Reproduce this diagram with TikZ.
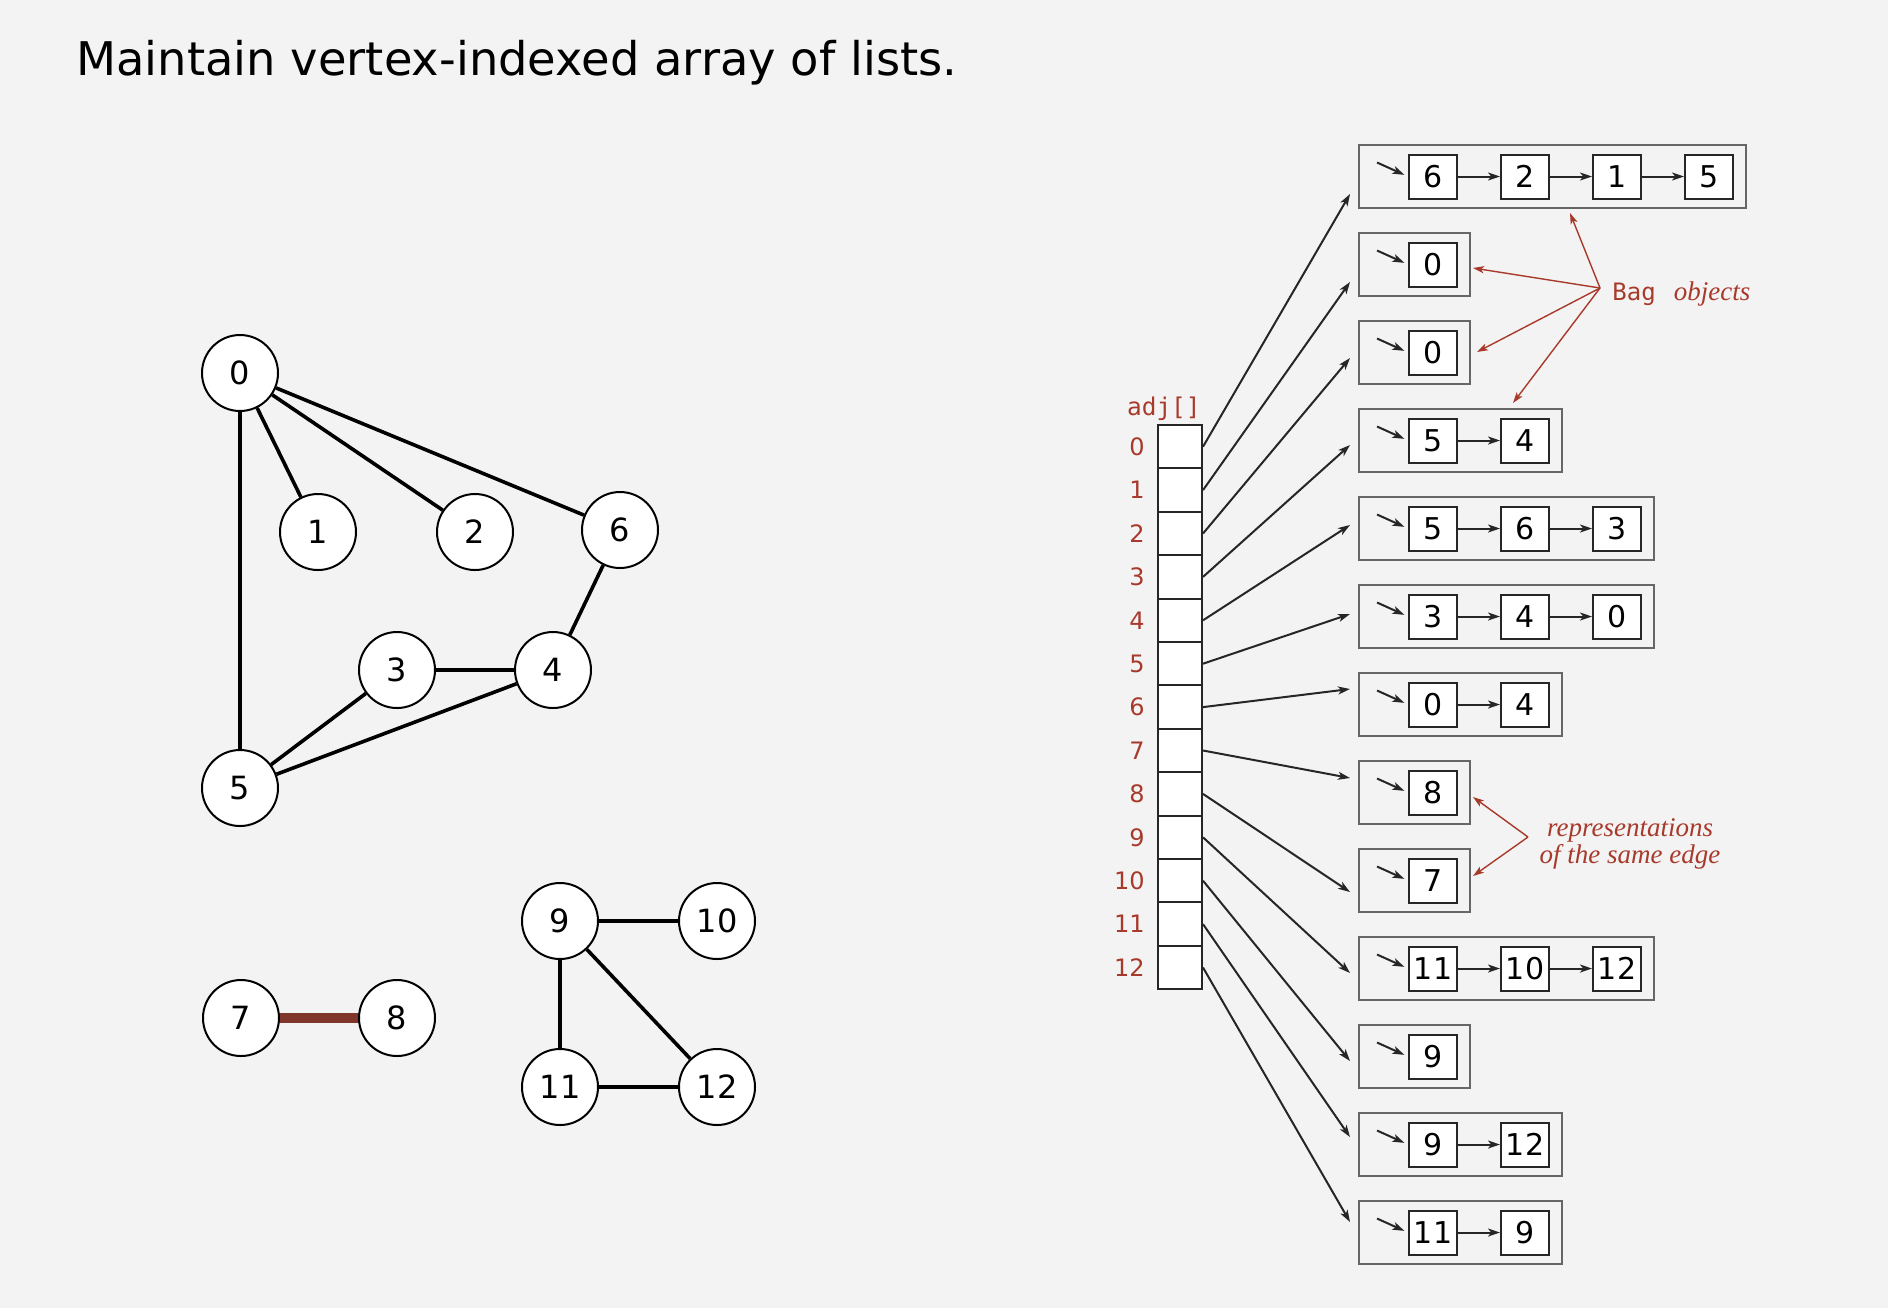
\documentclass[tikz,border=0pt]{standalone}
\usepackage{fontspec}
\usepackage{tikz}
\usetikzlibrary{calc}
\usetikzlibrary{backgrounds}
\usetikzlibrary{arrows.meta}
\usetikzlibrary{positioning}
\newfontfamily\vsans{DejaVu Sans}
\newfontfamily\vmono{DejaVu Sans Mono}
\newfontfamily\vserif{Liberation Serif}
\definecolor{bookred}{RGB}{168,58,44}
\definecolor{edgered}{RGB}{128,54,42}
\definecolor{paper}{RGB}{243,243,243}
\tikzset{headline/.style={anchor=base west,inner sep=0pt,font=\vsans\fontsize{23.2}{28}\selectfont}}
\tikzset{vertex/.style={circle,draw=black,line width=1pt,fill=white,minimum size=38pt,inner sep=0pt,font=\vsans\fontsize{16}{16}\selectfont}}
\tikzset{graphedge/.style={line width=1.8pt,black}}
\tikzset{cell/.style={draw=black!85,line width=1pt,fill=white,minimum width=22pt,minimum height=21.7pt,inner sep=0pt}}
\tikzset{idx/.style={anchor=east,inner sep=0pt,text=bookred,font=\vsans\fontsize{12}{12}\selectfont}}
\tikzset{item/.style={draw=black!85,line width=1pt,fill=white,minimum width=24pt,minimum height=22pt,inner sep=0pt,font=\vsans\fontsize{15}{15}\selectfont}}
\tikzset{bagbox/.style={draw=black!60,line width=0.75pt,minimum height=31.5pt,inner sep=0pt,anchor=west}}
\tikzset{link/.style={-{Stealth[length=6pt,width=4pt,inset=1.6pt]},line width=1pt,black!85}}
\tikzset{note/.style={-{Stealth[length=5.5pt,width=3.6pt,inset=1.4pt]},line width=0.7pt,bookred}}

\begin{document}
\begin{tikzpicture}[x=0.5pt,y=-0.5pt]

\begin{scope}[on background layer]
\fill[paper] (0,0) rectangle (1888,1308);
\end{scope}
\useasboundingbox (0,0) rectangle (1888,1308);

\node[headline] (head) at (76,75) {Maintain vertex-indexed array of lists.};

% the graph
\foreach \v/\x/\y in {0/240/373, 1/318/532, 2/475/532, 3/397/670, 4/553/670, 5/240/788, 6/620/530,
  7/241/1018, 8/397/1018, 9/560/921, 10/717/921, 11/560/1087, 12/717/1087}
  \node[vertex] (v\v) at (\x,\y) {\v};
\begin{scope}[on background layer]
\foreach \a/\b in {0/1, 0/2, 0/6, 0/5, 6/4, 3/4, 3/5, 4/5, 9/10, 9/11, 9/12, 11/12}
  \draw[graphedge] (v\a) -- (v\b);
\draw[graphedge, line width=5pt, edgered] (v7) -- (v8);
\end{scope}

% adj[] array
\node[anchor=base east, inner sep=0pt, text=bookred, font=\vmono\fontsize{12.2}{12.2}\selectfont] (adj) at (1201,415) {adj[]};
\foreach \i in {0,...,12}
  {
 \pgfmathsetmacro{\cy}{446.7+43.4*\i}
 \node[cell] (a\i) at (1180,\cy) {};
 \node[idx] (l\i) at (1145,\cy) {\i};
 }

% bag objects
\foreach \i/\n/\items/\off in {0/4/{6,2,1,5}/17.5, 1/1/{0}/17.5, 2/1/{0}/5.5, 3/2/{5,4}/4.5,
  4/3/{5,6,3}/-3.5, 5/3/{3,4,0}/-2.5, 6/2/{0,4}/-15.5, 7/1/{8}/-14.5, 8/1/{7}/11.5,
  9/3/{11,10,12}/4.5, 10/1/{9}/4.5, 11/2/{9,12}/-7.5, 12/2/{11,9}/-10.5}
  {
 \pgfmathsetmacro{\cy}{176.5+88*\i}
 \pgfmathsetmacro{\bw}{(111+92*(\n-1))/2}
 \node[bagbox, minimum width=\bw pt] (bag\i) at (1358,\cy) {};
 \foreach \v [count=\k from 0] in \items
   {
  \node[item] (n\i-\k) at (1433+92*\k,\cy) {\v};
  \ifnum\k>0
   \pgfmathtruncatemacro{\prev}{\k-1}
   \draw[link] (n\i-\prev) -- (n\i-\k);
  \fi
  }
 \coordinate (s\i) at ($(bag\i.west)+(19,-14)$);
 \draw[link, shorten >=2pt] (s\i) -- (n\i-0.west);
 \coordinate (t\i) at ($(bag\i.west)+(-8,\off)$);
 \draw[link] (a\i.east) -- (t\i);
 }

% notes
\node[anchor=base west, inner sep=0pt, text=bookred] (bagnote) at (1612,300)
  {{\vmono\fontsize{12}{12}\selectfont Bag}\hspace{9pt}{\vserif\itshape\fontsize{13.5}{13.5}\selectfont objects}};
\coordinate (hub) at (1600,288);
\coordinate (p0) at (1570,213);
\coordinate (p1) at (1473,268);
\coordinate (p2) at (1477,352);
\coordinate (p3) at (1513,403);
\foreach \p in {p0, p1, p2, p3}
  \draw[note] (hub) -- (\p);

\node[align=center, inner sep=0pt, text=bookred, font=\vserif\itshape\fontsize{13.5}{12}\selectfont] (same) at (1630,844)
  {representations\\of the same edge};
\coordinate (hub2) at (1528,837);
\coordinate (q8) at (1473,797);
\coordinate (q7) at (1473,876);
\draw[note] (hub2) -- (q8);
\draw[note] (hub2) -- (q7);

\end{tikzpicture}
\end{document}
